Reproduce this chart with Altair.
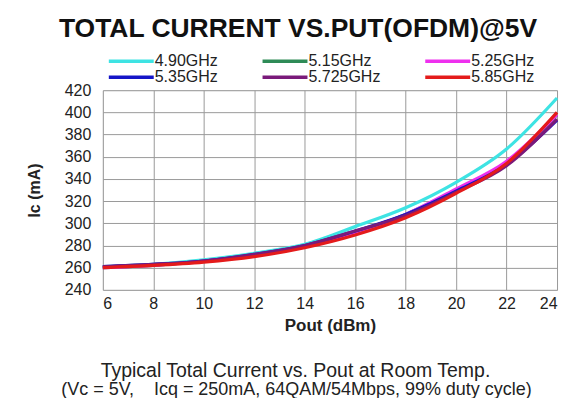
import altair as alt
import pandas as pd

pout = [6, 8, 10, 12, 14, 16, 18, 20, 22, 24]
freqs = ["4.90GHz", "5.15GHz", "5.25GHz", "5.35GHz", "5.725GHz", "5.85GHz"]
colors = ["#3EE3E3", "#2E8B57", "#EE30EE", "#1515C8", "#7A1A7A", "#E41B1B"]

ic_490 = [261, 263, 267, 273, 281, 297, 314, 337, 367, 413]
ic_515 = [260, 262, 266, 271, 279, 292, 308, 330, 355, 398]
ic_525 = [260, 262, 266, 271, 279, 292, 308, 331, 356, 398]
ic_535 = [261, 263, 266, 272, 280, 293, 308, 329, 353, 393]
ic_5725 = [261, 263, 266, 272, 280, 293, 307, 328, 352, 394]
ic_585 = [260, 262, 265, 270, 278, 289.5, 305, 327, 354, 400]

series = [ic_490, ic_515, ic_525, ic_535, ic_5725, ic_585]

rows = []
for f, vals in zip(freqs, series):
    for x, v in zip(pout, vals):
        rows.append({"Pout": x, "Ic": v, "Freq": f})
df = pd.DataFrame(rows)

caption1 = ["Typical Total Current vs. Pout at Room Temp."]
caption2 = ["(Vc = 5V,\u00a0\u00a0\u00a0 Icq = 250mA, 64QAM/54Mbps, 99% duty cycle)"]

FONT = "Liberation Sans"

lines = alt.Chart(df).mark_line(strokeWidth=3.2, interpolate="monotone").encode(
    x=alt.X("Pout:Q",
            scale=alt.Scale(domain=[6, 24], nice=False, zero=False),
            axis=alt.Axis(values=list(range(6, 25, 2)), title="Pout (dBm)",
                          ticks=False, domain=False, labelPadding=6,
                          labelFontSize=16, labelFont=FONT, labelColor="#222",
                          titleFont=FONT, titleFontSize=17, titleFontWeight="bold",
                          titleColor="#222", titleY=36, titleBaseline="middle",
                          gridColor="#9a9a9a", gridWidth=1)),
    y=alt.Y("Ic:Q",
            scale=alt.Scale(domain=[240, 420], nice=False, zero=False),
            axis=alt.Axis(values=list(range(240, 421, 20)), title="Ic (mA)",
                          ticks=False, domain=False, labelPadding=12,
                          labelFontSize=16, labelFont=FONT, labelColor="#222",
                          titleFont=FONT, titleFontSize=16, titleFontWeight="bold",
                          titleColor="#222", titleX=-68, titleY=100,
                          titleBaseline="middle",
                          gridColor="#9a9a9a", gridWidth=1)),
    color=alt.Color("Freq:N",
                    scale=alt.Scale(domain=freqs, range=colors),
                    sort=freqs,
                    legend=alt.Legend(title=None, orient="none", legendX=3, legendY=-37,
                                      columns=3, direction="horizontal",
                                      gridAlign="each",
                                      symbolType="M-1,0H8", symbolSize=100,
                                      symbolStrokeWidth=3.5, labelOffset=33,
                                      labelFont=FONT, labelFontSize=16,
                                      labelColor="#222", columnPadding=37,
                                      rowPadding=-1.5, labelLimit=200)),
    order=alt.Order("Freq:N", sort="ascending"),
)

cap1 = alt.Chart(pd.DataFrame({"t": caption1})).mark_text(
    font=FONT, fontSize=19.5, color="#222", align="center", baseline="middle"
).encode(text="t:N", x=alt.value(193), y=alt.value(281))

cap2 = alt.Chart(pd.DataFrame({"t": caption2})).mark_text(
    font=FONT, fontSize=18, color="#222", align="center", baseline="middle"
).encode(text="t:N", x=alt.value(194), y=alt.value(300))

chart = alt.layer(lines, cap1, cap2).properties(
    width=455, height=200,
    title=alt.TitleParams("TOTAL CURRENT VS.PUT(OFDM)@5V", font=FONT, fontSize=26.5,
                          fontWeight="bold", color="#111", dx=-32, offset=11,
                          anchor="middle"),
    autosize=alt.AutoSizeParams(type="none"),
    padding={"left": 95, "top": 82, "right": 12, "bottom": 108},
).configure_view(stroke="#9a9a9a", strokeWidth=1).configure(background="white")

chart.save("out.html", embed_options={"renderer": "svg", "actions": False})
